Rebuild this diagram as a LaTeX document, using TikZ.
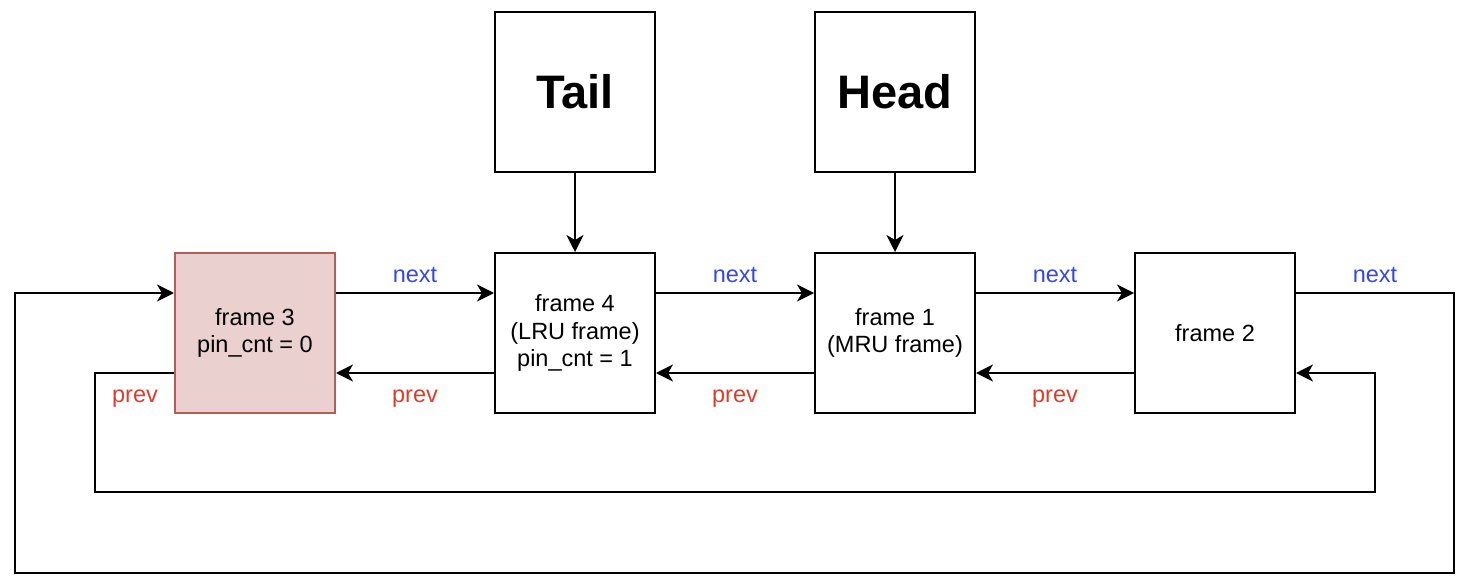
\documentclass[tikz,border=0pt]{standalone}
\usepackage{fontspec}
\setmainfont{Liberation Sans}
\usetikzlibrary{arrows.meta}
\definecolor{nextblue}{RGB}{52,72,232}
\definecolor{prevred}{RGB}{218,62,46}
\definecolor{pinkfill}{RGB}{234,209,207}
\definecolor{pinkdraw}{RGB}{176,94,88}
\tikzset{
  box/.style={draw=black, line width=2pt, minimum width=160pt, minimum height=160pt, inner sep=0pt, align=center, font=\fontsize{23.5}{27.5}\selectfont},
  bigbox/.style={box, font=\fontsize{47}{52}\selectfont\bfseries},
  conn/.style={line width=2pt, -{Stealth[length=17pt,width=17pt,inset=5pt]}},
  nextlbl/.style={text=nextblue, font=\fontsize{23.5}{27.5}\selectfont, inner sep=0pt},
  prevlbl/.style={text=prevred, font=\fontsize{23.5}{27.5}\selectfont, inner sep=0pt},
}
\begin{document}
\begin{tikzpicture}[x=1pt,y=-1pt]
\useasboundingbox (0,0) rectangle (1470,588);
\node[bigbox] (tail) at (575,92) {Tail};
\node[bigbox] (head) at (895,92) {Head};
\node[box, fill=pinkfill, draw=pinkdraw] (f3) at (255,333) {frame 3\\pin\_cnt = 0};
\node[box] (f4) at (575,333) {frame 4\\(LRU frame)\\pin\_cnt = 1};
\node[box] (f1) at (895,333) {frame 1\\(MRU frame)};
\node[box] (f2) at (1215,333) {frame 2};

\draw[conn] (tail) -- (f4);
\draw[conn] (head) -- (f1);

\draw[conn] ([yshift=40pt]f3.east) -- ([yshift=40pt]f4.west);
\draw[conn] ([yshift=40pt]f4.east) -- ([yshift=40pt]f1.west);
\draw[conn] ([yshift=40pt]f1.east) -- ([yshift=40pt]f2.west);
\draw[conn] ([yshift=-40pt]f4.west) -- ([yshift=-40pt]f3.east);
\draw[conn] ([yshift=-40pt]f1.west) -- ([yshift=-40pt]f4.east);
\draw[conn] ([yshift=-40pt]f2.west) -- ([yshift=-40pt]f1.east);

\coordinate (oR) at (1454,573);
\coordinate (oL) at (15,573);
\coordinate (iR) at (1375,492);
\coordinate (iL) at (95,492);
\draw[conn] ([yshift=40pt]f2.east) -| (oR) -- (oL) |- ([yshift=40pt]f3.west);
\draw[conn] ([yshift=-40pt]f3.west) -| (iL) -- (iR) |- ([yshift=-40pt]f2.east);

\node[nextlbl] (n1) at (415,275) {next};
\node[nextlbl] (n2) at (735,275) {next};
\node[nextlbl] (n3) at (1055,275) {next};
\node[nextlbl] (n4) at (1375,275) {next};
\node[prevlbl] (p0) at (135,399) {prev};
\node[prevlbl] (p1) at (415,399) {prev};
\node[prevlbl] (p2) at (735,399) {prev};
\node[prevlbl] (p3) at (1055,399) {prev};
\end{tikzpicture}
\end{document}
